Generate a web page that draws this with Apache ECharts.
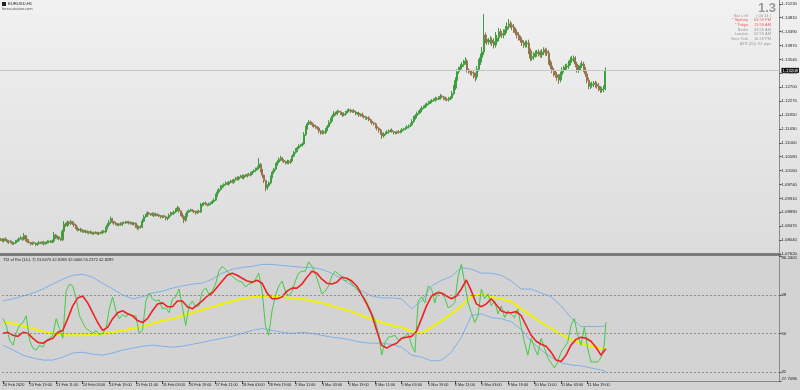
<!DOCTYPE html>
<html><head><meta charset="utf-8">
<script src="https://cdn.jsdelivr.net/npm/echarts@6/dist/echarts.min.js"></script>
<style>
html,body{margin:0;padding:0;background:#d3d3d3}
#c{width:800px;height:390px;background:linear-gradient(to bottom,#f1f1f1 0px,#dcdcdc 253px,#d3d3d3 254px,#d3d3d3 390px)}
</style></head><body><div id="c"></div>
<script>
// ---------------- DATA ----------------
const symbolTitle = 'EURUSD,H1';
const siteName = 'forex-station.com';
const indicatorTitle = 'TDI of Rsi (14,L 7) 53.6470 42.8288 32.0666 55.2372 42.8289';
const bigValue = '1.3';
const infoLabels = ['Bar Left', '* Sydney', '* Tokyo', 'Berlin', 'London', 'New York'];
const infoValues = ['( 00:14 )', '01:59 PM', '11:59 AM', '03:59 AM', '02:59 AM', '10:59 PM'];
const atrText = 'ATR (20): 92 pips';

const timeTickLabels = ['20 Feb 2020','20 Feb 19:00','21 Feb 11:00','24 Feb 03:00','24 Feb 19:00','25 Feb 11:00','26 Feb 03:00','26 Feb 19:00','27 Feb 11:00','28 Feb 03:00','28 Feb 19:00','2 Mar 11:00','3 Mar 03:00','3 Mar 19:00','4 Mar 11:00','5 Mar 03:00','5 Mar 19:00','6 Mar 11:00','9 Mar 03:00','9 Mar 19:00','10 Mar 11:00','11 Mar 03:00','11 Mar 19:00'];

const firstOpen = 1.0808;
const close = [
1.0806,1.0802,1.0808,1.0803,1.0799,1.0801,1.0797,1.0794,1.0796,1.0800,
1.0804,1.0809,1.0811,1.0807,1.0818,1.0806,1.0799,1.0797,1.0793,1.0796,
1.0795,1.0791,1.0794,1.0797,1.0795,1.0798,1.0793,1.0796,1.0799,1.0801,
1.0798,1.0802,1.0820,1.0811,1.0814,1.0808,1.0805,1.0831,1.0853,1.0849,
1.0859,1.0855,1.0860,1.0854,1.0850,1.0843,1.0835,1.0838,1.0832,1.0834,
1.0829,1.0831,1.0827,1.0830,1.0826,1.0824,1.0828,1.0826,1.0823,1.0827,
1.0826,1.0831,1.0829,1.0840,1.0850,1.0858,1.0869,1.0861,1.0856,1.0853,
1.0850,1.0854,1.0851,1.0857,1.0856,1.0860,1.0859,1.0855,1.0858,1.0853,
1.0856,1.0847,1.0841,1.0845,1.0844,1.0862,1.0875,1.0880,1.0887,1.0884,
1.0881,1.0885,1.0879,1.0883,1.0881,1.0877,1.0875,1.0878,1.0875,1.0870,
1.0872,1.0880,1.0887,1.0885,1.0890,1.0896,1.0902,1.0893,1.0884,1.0876,
1.0865,1.0879,1.0890,1.0894,1.0896,1.0893,1.0890,1.0887,1.0892,1.0890,
1.0911,1.0914,1.0917,1.0913,1.0911,1.0915,1.0917,1.0922,1.0926,1.0940,
1.0951,1.0958,1.0966,1.0970,1.0974,1.0978,1.0975,1.0981,1.0984,1.0980,
1.0988,1.0993,1.0990,1.0996,1.0999,1.0994,1.1001,1.0999,1.1004,1.1002,
1.1008,1.1012,1.1016,1.1020,1.1024,1.1035,1.1018,1.1002,1.0985,1.0963,
1.0970,1.0978,1.0995,1.1011,1.1020,1.1033,1.1042,1.1050,1.1054,1.1047,
1.1043,1.1039,1.1044,1.1041,1.1048,1.1060,1.1071,1.1078,1.1085,1.1091,
1.1094,1.1097,1.1125,1.1145,1.1158,1.1164,1.1160,1.1155,1.1150,1.1148,
1.1145,1.1136,1.1130,1.1134,1.1131,1.1139,1.1150,1.1162,1.1170,1.1182,
1.1191,1.1188,1.1196,1.1194,1.1190,1.1185,1.1188,1.1193,1.1197,1.1200,
1.1196,1.1198,1.1194,1.1189,1.1191,1.1185,1.1187,1.1182,1.1179,1.1175,
1.1177,1.1170,1.1166,1.1161,1.1158,1.1150,1.1145,1.1139,1.1130,1.1121,
1.1127,1.1130,1.1133,1.1137,1.1139,1.1134,1.1131,1.1130,1.1134,1.1132,
1.1136,1.1140,1.1143,1.1145,1.1149,1.1152,1.1155,1.1165,1.1176,1.1183,
1.1189,1.1194,1.1201,1.1206,1.1210,1.1215,1.1219,1.1222,1.1226,1.1229,
1.1231,1.1235,1.1233,1.1237,1.1242,1.1240,1.1236,1.1233,1.1231,1.1234,
1.1237,1.1250,1.1267,1.1290,1.1316,1.1325,1.1331,1.1338,1.1343,1.1349,
1.1322,1.1318,1.1315,1.1313,1.1306,1.1301,1.1324,1.1346,1.1360,1.1377,
1.1428,1.1415,1.1407,1.1410,1.1413,1.1404,1.1398,1.1408,1.1419,1.1438,
1.1432,1.1428,1.1436,1.1444,1.1453,1.1462,1.1458,1.1453,1.1444,1.1436,
1.1428,1.1420,1.1413,1.1405,1.1398,1.1402,1.1404,1.1380,1.1358,1.1362,
1.1368,1.1372,1.1377,1.1372,1.1368,1.1376,1.1383,1.1378,1.1374,1.1346,
1.1334,1.1322,1.1314,1.1307,1.1299,1.1292,1.1308,1.1322,1.1328,1.1331,
1.1334,1.1343,1.1352,1.1355,1.1358,1.1340,1.1322,1.1328,1.1335,1.1340,
1.1325,1.1310,1.1290,1.1273,1.1276,1.1279,1.1282,1.1278,1.1273,1.1266,
1.1261,1.1264,1.1267,1.1321];
// upper / lower wick length in pips beyond the body
const hiExt = [
3,4,2,5,3,2,4,3,2,5,3,4,6,3,8,2,3,4,2,3,
4,2,3,5,3,2,4,3,5,2,3,4,9,3,4,2,3,6,9,4,
5,3,6,2,3,4,3,2,4,3,2,5,3,2,4,3,2,3,4,2,
3,4,3,5,6,8,7,3,2,4,3,2,5,3,4,3,2,4,3,2,
3,2,4,3,5,7,6,4,5,3,2,4,3,5,2,3,4,2,3,4,
3,5,4,3,4,5,7,3,2,3,4,6,5,3,4,2,3,4,3,5,
6,4,3,5,2,4,3,4,5,6,7,5,6,4,3,5,4,3,4,5,
3,4,5,3,4,5,3,4,3,5,4,3,4,5,6,19,4,3,2,3,
4,5,6,5,4,6,5,6,7,3,4,3,5,4,3,6,5,6,4,5,
3,4,8,7,5,6,4,3,4,5,3,4,3,5,4,6,5,7,6,5,
6,4,5,3,4,3,5,4,6,5,4,3,5,4,3,4,3,5,4,3,
3,4,3,5,3,4,3,2,4,3,5,4,6,4,3,5,3,4,3,5,
4,5,3,4,5,4,6,7,6,5,6,4,5,6,4,5,4,6,5,4,
5,6,4,5,7,4,3,5,4,6,5,8,9,10,8,7,9,8,10,12,
6,5,4,6,5,8,10,9,12,15,64,8,10,9,12,8,14,30,10,12,
9,8,10,12,14,15,10,8,9,7,8,9,6,8,7,9,8,10,7,9,
8,9,6,8,10,9,8,7,9,8,7,9,6,8,7,10,9,8,7,9,
8,7,9,10,8,6,7,9,8,10,7,6,8,9,7,8,6,7,8,9,
7,6,8,9];
const loExt = [
4,3,5,2,4,6,3,5,4,3,2,4,3,5,3,6,4,3,5,4,
3,5,4,2,3,4,5,3,2,4,3,3,4,3,5,4,3,4,3,5,
4,3,5,4,6,5,4,3,4,5,3,4,3,5,4,3,4,3,2,4,
3,4,3,4,3,5,4,6,5,4,3,4,3,4,3,2,4,3,4,3,
5,6,7,4,5,3,4,3,5,4,3,4,5,3,4,3,5,4,3,5,
6,3,4,3,4,3,4,5,7,6,9,5,4,3,4,3,4,5,3,4,
3,4,5,3,4,3,4,3,4,3,4,5,3,4,5,4,3,5,4,3,
4,3,4,5,3,4,5,3,4,3,4,5,3,4,3,5,8,9,7,10,
6,5,4,3,5,4,3,4,5,6,4,5,4,6,5,4,3,4,5,4,
4,5,3,4,5,4,5,6,4,5,6,7,5,4,5,4,3,4,5,4,
4,5,4,3,5,6,4,5,3,4,5,4,3,5,4,6,5,4,5,4,
5,4,5,6,5,6,7,8,6,9,5,4,3,5,4,3,5,4,3,4,
3,4,3,4,3,5,4,3,4,5,4,3,4,5,3,4,5,4,3,4,
4,5,4,3,5,4,6,5,4,5,4,3,5,6,5,6,5,4,6,5,
8,7,9,8,10,14,8,7,9,8,10,12,9,8,10,9,11,8,9,10,
8,9,10,8,9,7,8,10,9,8,10,9,8,10,9,8,12,10,9,8,
9,8,10,9,8,10,9,12,10,8,9,10,12,9,10,12,8,9,8,7,
8,9,7,8,9,10,8,9,8,7,10,9,8,10,9,8,9,10,8,9,
9,8,10,7];
const currentPrice = 1.13208;
const priceMin = 1.0762, priceMax = 1.15349, priceStep = 0.00423;

// TDI lines (values read at every 2nd / 3rd / 6th bar)
const greenRsi = [
56.9,53.7,46.8,44.5,50.5,53.7,55.1,58.3,46.8,43.1,
42.2,44.5,43.5,46.8,47.7,49.1,56.9,52.3,47.7,69.8,
73.1,72.2,66.6,58.3,55.1,52.3,51.4,50.0,51.4,49.5,
50.0,52.3,61.5,67.1,60.6,56.9,58.8,57.8,59.2,57.8,
58.3,50.0,51.4,65.2,68.9,66.2,65.2,65.7,61.5,62.0,
59.7,66.2,67.1,70.8,62.5,53.7,62.9,65.2,62.5,62.9,
69.8,71.2,68.5,69.8,73.1,79.1,81.4,80.0,78.2,76.8,
75.4,74.5,74.0,71.7,73.1,73.5,75.4,78.2,69.8,53.7,
49.1,60.6,67.5,72.2,74.5,69.8,67.5,69.8,74.5,78.2,
79.1,79.1,83.5,81.5,78.2,73.5,68.5,69.8,72.2,76.8,
79.1,77.7,76.8,74.5,75.4,73.1,71.7,69.8,68.0,66.2,
62.9,59.7,56.0,50.0,39.8,45.8,48.2,48.6,49.1,46.8,
47.7,48.6,50.0,44.5,41.2,65.2,67.1,64.3,72.2,70.8,
64.3,69.8,68.9,66.6,62.0,62.9,64.3,76.8,82.3,73.5,
64.3,59.7,55.1,58.3,70.8,66.2,68.5,62.9,65.2,59.2,
62.9,57.4,60.6,58.8,57.4,61.5,52.8,45.8,39.8,47.7,
43.1,39.8,47.7,43.1,38.5,36.2,33.8,36.6,41.2,43.5,
45.8,53.7,56.9,49.1,44.5,52.8,43.1,36.6,36.6,36.6,
38.5,44.5,55.2];
const redSignal = [
50.0,50.5,49.1,48.6,50.5,50.0,47.7,45.8,45.4,46.8,
47.7,50.5,51.4,56.9,62.9,66.6,67.5,64.3,59.7,55.1,
51.4,52.8,56.9,59.7,60.6,59.2,58.3,56.0,55.1,56.9,
60.6,63.8,64.3,62.5,62.5,65.2,65.2,62.5,61.5,63.4,
65.2,67.5,68.9,71.7,74.5,77.2,78.2,77.2,75.8,74.5,
74.0,74.9,73.5,68.9,66.2,66.2,67.1,69.8,71.2,71.2,
73.1,76.3,79.1,78.2,75.4,73.5,73.1,74.0,76.3,75.8,
74.5,72.2,68.0,63.8,58.8,51.4,44.5,43.1,44.5,45.4,
47.7,48.2,48.6,51.0,56.9,62.9,67.5,68.9,68.9,67.5,
66.2,67.5,70.8,75.0,69.8,63.8,62.5,63.8,66.2,63.4,
60.6,59.7,59.7,60.2,58.3,53.7,49.1,46.3,44.9,44.0,
41.2,37.5,36.8,39.8,44.5,47.2,48.2,47.7,46.3,43.5,
39.8,42.8];
const yellowBase = [
55.1,54.6,53.7,52.3,50.9,50.0,49.1,49.1,49.1,49.5,
50.0,50.5,51.4,52.3,53.2,54.6,56.0,56.9,58.3,59.7,
61.1,62.5,63.8,65.2,66.2,67.1,67.5,67.5,67.1,66.6,
66.2,65.2,64.3,62.9,61.5,60.2,58.3,56.9,55.1,53.7,
52.8,50.9,50.0,52.8,56.0,59.2,62.9,67.5,68.5,67.1,
66.2,64.8,61.5,58.3,55.1,52.3,49.5,47.2,45.4,44.0,
43.1,42.8];
const upperBand = [
65.2,66.2,67.5,68.9,70.8,73.1,75.4,77.2,77.7,76.3,
73.5,70.8,68.0,66.2,67.1,68.9,69.8,71.2,72.2,73.1,
73.5,75.4,78.2,80.0,80.9,81.4,82.3,82.3,81.8,81.4,
80.9,80.9,80.0,78.2,75.4,72.6,69.8,67.5,66.6,66.6,
66.2,61.5,65.2,72.2,74.9,76.7,80.9,80.0,78.2,78.2,
77.2,74.5,70.8,70.8,68.9,67.1,62.9,57.4,53.2,53.2,
53.2,53.6];
const lowerBand = [
44.5,42.2,39.8,38.5,37.5,37.5,38.9,40.8,41.2,40.3,
39.8,40.8,42.2,43.1,44.0,44.5,44.0,43.5,44.0,44.9,
45.8,46.8,47.7,48.6,50.0,51.4,52.3,51.4,50.5,50.0,
50.5,50.0,49.1,48.2,47.7,46.8,45.8,45.4,45.4,44.9,
43.5,39.8,38.9,37.1,37.5,41.2,48.2,58.3,59.2,57.4,
56.9,55.5,51.8,46.3,42.2,38.9,36.2,35.2,34.8,33.8,
32.9,32.1];
const tdiLevels = [68, 50, 32];
const tdiMin = 27.7086, tdiMax = 86.2405;

// ---------------- BUILD ----------------
const N_BARS = close.length;
const N_SLOTS = 468;
const MON = ['Jan','Feb','Mar','Apr','May','Jun','Jul','Aug','Sep','Oct','Nov','Dec'];
const cats = [];
let t = Date.UTC(2020, 1, 20, 3);
while (cats.length < N_BARS) {
  const d = new Date(t); const wd = d.getUTCDay();
  if (wd !== 0 && wd !== 6) cats.push(d.getUTCDate() + ' ' + MON[d.getUTCMonth()] + ' ' + String(d.getUTCHours()).padStart(2,'0') + ':00');
  t += 3600000;
}
for (let i = N_BARS; i < N_SLOTS; i++) cats.push('slot' + i);

const open = [firstOpen].concat(close.slice(0, -1));
const candles = close.map((c, i) => {
  const o = open[i];
  return [o, c, +(Math.min(o, c) - loExt[i] * 1e-4).toFixed(5), +(Math.max(o, c) + hiExt[i] * 1e-4).toFixed(5)];
});
const sampled = (arr, step) => arr.map((v, k) => [Math.min(k * step, N_BARS - 1), v]);

const FONT = 'Liberation Sans';
const labelShown = (idx) => idx % 16 === 0 && idx < N_BARS;

const graphics = [
  {type:'rect', shape:{x:2, y:2, width:4, height:4}, style:{fill:'#222'}},
  {type:'text', x:8, y:4, style:{text:symbolTitle, fill:'#222', fontSize:4.2, fontFamily:FONT, verticalAlign:'middle'}},
  {type:'text', x:2, y:9, style:{text:siteName, fill:'#555', fontSize:4.0, fontFamily:FONT, verticalAlign:'middle'}},
  {type:'text', x:3, y:259.5, style:{text:indicatorTitle, fill:'#222', fontSize:4.0, fontFamily:FONT, verticalAlign:'middle'}},
  {type:'text', x:776, y:2, style:{text:bigValue, fill:'#9a9a9a', fontSize:13, fontWeight:'bold', fontFamily:FONT, align:'right', verticalAlign:'top'}},
  {type:'text', x:771, y:43.5, style:{text:atrText, fill:'#9a9a9a', fontSize:4.0, fontFamily:FONT, align:'right', verticalAlign:'middle'}}
];
infoLabels.forEach((lab, r) => {
  const red = lab.charAt(0) === '*';
  const col = red ? '#f05a5a' : '#9a9a9a';
  graphics.push({type:'text', x:748, y:15.5 + r * 4.65, style:{text:lab, fill:col, fontSize:4.0, fontFamily:FONT, align:'right', verticalAlign:'middle'}});
  graphics.push({type:'text', x:771, y:15.5 + r * 4.65, style:{text:infoValues[r], fill:col, fontSize:4.0, fontFamily:FONT, align:'right', verticalAlign:'middle'}});
});

const lineBase = {type:'line', xAxisIndex:1, yAxisIndex:1, showSymbol:false, symbol:'none', silent:true, animation:false};

const option = {
  animation: false,
  backgroundColor: 'transparent',
  grid: [
    {left:0, right:19, top:0, height:254},
    {left:0, right:19, top:256, height:125}
  ],
  xAxis: [
    {gridIndex:0, type:'category', data:cats, boundaryGap:true,
     axisLine:{show:true, onZero:false, lineStyle:{color:'#7c7c7c', width:3}},
     axisTick:{show:false}, axisLabel:{show:false}, splitLine:{show:false}},
    {gridIndex:1, type:'category', data:cats, boundaryGap:true,
     axisLine:{show:true, onZero:false, lineStyle:{color:'#8a8a8a', width:1}},
     axisTick:{show:true, alignWithLabel:true, interval:(i) => labelShown(i), length:3, lineStyle:{color:'#444'}},
     axisLabel:{show:true, interval:(i) => labelShown(i), formatter:(v, i) => labelShown(i) ? timeTickLabels[i / 16] : '',
       align:'left', margin:2, fontSize:3.8, color:'#222', fontFamily:FONT},
     splitLine:{show:false}}
  ],
  yAxis: [
    {gridIndex:0, type:'value', position:'right', min:priceMin, max:priceMax, interval:priceStep,
     axisLine:{show:true, lineStyle:{color:'#8a8a8a'}},
     axisTick:{show:true, length:2, lineStyle:{color:'#444'}},
     axisLabel:{show:true, showMaxLabel:false, margin:2, fontSize:4.3, color:'#222', fontFamily:FONT,
       formatter:(v) => (Math.round(v * 1e4 + 1e-6) / 1e4).toFixed(5)},
     splitLine:{show:false}},
    {gridIndex:1, type:'value', position:'right', min:tdiMin, max:tdiMax,
     axisLine:{show:true, lineStyle:{color:'#8a8a8a'}},
     axisTick:{show:true, length:2, customValues:[tdiMin].concat(tdiLevels).concat([tdiMax]), lineStyle:{color:'#444'}},
     axisLabel:{show:true, customValues:[tdiMin].concat(tdiLevels).concat([tdiMax]), margin:2, fontSize:4.3, color:'#222', fontFamily:FONT,
       verticalAlignMinLabel:'bottom', verticalAlignMaxLabel:'top',
       formatter:(v) => Number.isInteger(v) ? String(v) : v.toFixed(4)},
     splitLine:{show:false}}
  ],
  graphic: graphics,
  series: [
    {type:'line', name:'priceLevel', xAxisIndex:0, yAxisIndex:0, data:[[N_BARS - 1, currentPrice]],
     showSymbol:false, symbol:'none', silent:true, lineStyle:{width:0}, z:1,
     markLine:{silent:true, symbol:['none','none'], animation:false, precision:5,
       data:[{yAxis:currentPrice}],
       lineStyle:{color:'#c6c6c6', width:1, type:'solid'},
       label:{show:true, position:'end', distance:2, formatter:currentPrice.toFixed(5), color:'#fff', backgroundColor:'#111',
         fontSize:4.3, lineHeight:5, fontFamily:FONT, padding:[0,1,0,1]}}},
    {type:'candlestick', xAxisIndex:0, yAxisIndex:0, data:candles, barWidth:1.6, silent:true, z:3,
     itemStyle:{color:'#3f9e3f', color0:'#94744c', borderColor:'#3f9e3f', borderColor0:'#94744c', borderWidth:1}},
    Object.assign({}, lineBase, {name:'upper', data:sampled(upperBand, 6), lineStyle:{color:'#7fb0e6', width:1},
      markLine:{silent:true, symbol:['none','none'], animation:false, label:{show:false},
        lineStyle:{color:'#8c8c8c', width:1, type:[2,2]}, data:tdiLevels.map(v => ({yAxis:v}))}}),
    Object.assign({}, lineBase, {name:'lower', data:sampled(lowerBand, 6), lineStyle:{color:'#7fb0e6', width:1}}),
    Object.assign({}, lineBase, {name:'base', data:sampled(yellowBase, 6), lineStyle:{color:'#f2f200', width:2}}),
    Object.assign({}, lineBase, {name:'rsi', data:sampled(greenRsi, 2), lineStyle:{color:'#44c944', width:1}}),
    Object.assign({}, lineBase, {name:'signal', data:sampled(redSignal, 3), lineStyle:{color:'#ee2222', width:1.6}})
  ]
};
const chart = echarts.init(document.getElementById('c'));
chart.setOption(option);
</script>
</body></html>
